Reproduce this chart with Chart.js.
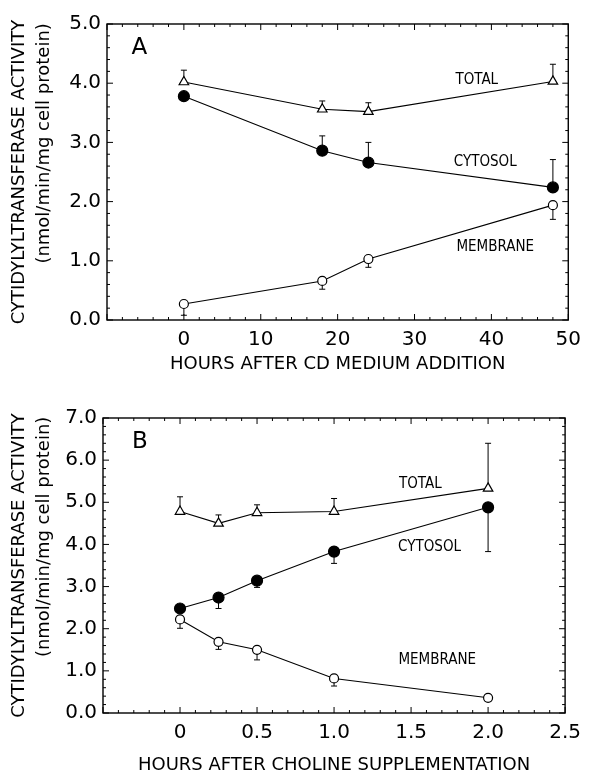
<!DOCTYPE html>
<html>
<head>
<meta charset="utf-8">
<script src="https://cdn.jsdelivr.net/npm/chart.js@4/dist/chart.umd.min.js"></script>
<style>
  html, body { margin: 0; padding: 0; background: #fff; }
  body { width: 589px; height: 776px; position: relative; overflow: hidden; }
  canvas { position: absolute; left: 0; }
  #chartA { top: 0; }
  #chartB { top: 388px; }
</style>
</head>
<body>
<canvas id="chartA" width="589" height="388"></canvas>
<canvas id="chartB" width="589" height="388"></canvas>
<script>
// Panel A - hours after CD medium addition
const hoursA = [0, 18, 24, 48];
const totalA = [4.02, 3.56, 3.52, 4.03];
const totalErrA = [0.20, 0.14, 0.15, 0.29];      // bars point up
const cytosolA = [3.78, 2.86, 2.66, 2.24];
const cytosolErrA = [0, 0.25, 0.34, 0.47];       // up
const membraneA = [0.27, 0.66, 1.03, 1.94];
const membraneErrA = [0.19, 0.14, 0.14, 0.24];   // down
const xTicksA = [0, 10, 20, 30, 40, 50];
const xLabelsA = ['0', '10', '20', '30', '40', '50'];
const yTicksA = [0, 1, 2, 3, 4, 5];
const yLabelsA = ['0.0', '1.0', '2.0', '3.0', '4.0', '5.0'];

// Panel B - hours after choline supplementation
const hoursB = [0, 0.25, 0.5, 1.0, 2.0];
const totalB = [4.78, 4.50, 4.75, 4.78, 5.33];
const totalErrB = [0.35, 0.20, 0.19, 0.31, 1.07];   // up
const cytosolB = [2.48, 2.74, 3.14, 3.83, 4.88];
const cytosolErrB = [0, 0.26, 0.16, 0.28, 1.05];    // down
const membraneB = [2.22, 1.69, 1.50, 0.82, 0.36];
const membraneErrB = [0.21, 0.18, 0.24, 0.18, 0];   // down
const xTicksB = [0, 0.5, 1.0, 1.5, 2.0, 2.5];
const xLabelsB = ['0', '0.5', '1.0', '1.5', '2.0', '2.5'];
const yTicksB = [0, 1, 2, 3, 4, 5, 6, 7];
const yLabelsB = ['0.0', '1.0', '2.0', '3.0', '4.0', '5.0', '6.0', '7.0'];

const yTitle = ['CYTIDYLYLTRANSFERASE ACTIVITY', '          (nmol/min/mg cell protein)'];

Chart.defaults.font.family = "'DejaVu Sans', 'Liberation Sans', sans-serif";
Chart.defaults.color = '#000';

// box around the plot with inward major/minor ticks on all four sides
const framePlugin = {
  id: 'frame',
  afterDraw(chart, args, opts) {
    const { ctx, chartArea: a, scales: { x, y } } = chart;
    ctx.save();
    ctx.strokeStyle = '#000';
    ctx.lineWidth = 1.4;
    ctx.strokeRect(a.left, a.top, a.right - a.left, a.bottom - a.top);
    ctx.lineWidth = 1;
    const walk = (scale, minor, major, fn) => {
      const n = Math.round((scale.max - scale.min) / minor);
      for (let i = 0; i <= n; i++) {
        const v = scale.min + i * minor;
        const r = (v - scale.min) / major;
        const big = Math.abs(r - Math.round(r)) < 1e-6;
        fn(scale.getPixelForValue(v), big ? 6 : 3);
      }
    };
    ctx.beginPath();
    walk(x, opts.xMinor, opts.xMajor, (px, len) => {
      ctx.moveTo(px, a.bottom); ctx.lineTo(px, a.bottom - len);
      ctx.moveTo(px, a.top); ctx.lineTo(px, a.top + len);
    });
    walk(y, opts.yMinor, opts.yMajor, (py, len) => {
      ctx.moveTo(a.left, py); ctx.lineTo(a.left + len, py);
      ctx.moveTo(a.right, py); ctx.lineTo(a.right - len, py);
    });
    ctx.stroke();
    ctx.restore();
  }
};

// one-sided error bars, drawn before the markers so they sit behind them
const errorPlugin = {
  id: 'errbars',
  beforeDatasetsDraw(chart) {
    const { ctx, scales: { x, y } } = chart;
    ctx.save();
    ctx.strokeStyle = '#000';
    ctx.lineWidth = 1;
    chart.data.datasets.forEach(ds => {
      if (!ds.errors) return;
      ds.data.forEach((p, i) => {
        const e = ds.errors[i];
        if (!e) return;
        const px = x.getPixelForValue(p.x);
        const py0 = y.getPixelForValue(p.y);
        const py1 = y.getPixelForValue(p.y + ds.errDir * e);
        ctx.beginPath();
        ctx.moveTo(px, py0); ctx.lineTo(px, py1);
        ctx.moveTo(px - 3, py1); ctx.lineTo(px + 3, py1);
        ctx.stroke();
      });
    });
    ctx.restore();
  }
};

// curve names and panel letter
const labelPlugin = {
  id: 'curveLabels',
  afterDatasetsDraw(chart, args, opts) {
    const { ctx, scales: { x, y } } = chart;
    ctx.save();
    ctx.fillStyle = '#000';
    ctx.textAlign = 'center';
    ctx.textBaseline = 'middle';
    opts.items.forEach(it => {
      ctx.font = it.font;
      ctx.fillText(it.text, x.getPixelForValue(it.x), y.getPixelForValue(it.y));
    });
    ctx.restore();
  }
};

function series(hours, vals, errs, dir, style, fill, radius) {
  return {
    data: hours.map((h, i) => ({ x: h, y: vals[i] })),
    errors: errs,
    errDir: dir,
    showLine: true,
    borderColor: '#000',
    borderWidth: 1.1,
    pointStyle: style,
    pointRadius: radius,
    pointBackgroundColor: fill,
    pointBorderColor: '#000',
    pointBorderWidth: 1.2,
    tension: 0
  };
}

const narrow = "15px 'Liberation Sans Narrow', 'DejaVu Sans Condensed', sans-serif";
const letter = "23px 'DejaVu Sans', sans-serif";

function panel(id, p) {
  return new Chart(document.getElementById(id), {
    type: 'scatter',
    data: {
      datasets: [
        series(p.hours, p.total, p.totalErr, 1, 'triangle', '#fff', 5.5),
        series(p.hours, p.cytosol, p.cytosolErr, p.cytosolDir, 'circle', '#000', 5.5),
        series(p.hours, p.membrane, p.membraneErr, -1, 'circle', '#fff', 4.5)
      ]
    },
    options: {
      responsive: false,
      animation: false,
      devicePixelRatio: 1,
      layout: { padding: { top: p.top, right: p.right, left: 0, bottom: 0 } },
      plugins: {
        legend: { display: false },
        tooltip: { enabled: false },
        frame: p.frame,
        curveLabels: { items: p.labels }
      },
      scales: {
        x: {
          type: 'linear',
          min: p.xMin,
          max: p.xMax,
          afterBuildTicks: s => { s.ticks = p.xTicks.map(v => ({ value: v })); },
          afterFit: s => { s.height = p.xHeight; },
          grid: { display: false, drawTicks: false },
          border: { display: false },
          ticks: {
            font: { size: 20 },
            padding: 8,
            maxRotation: 0,
            autoSkip: false,
            callback: (v, i) => p.xLabels[i]
          },
          title: {
            display: true,
            text: p.xTitle,
            font: { size: 18 },
            padding: { top: 0, bottom: p.xTitlePad }
          }
        },
        y: {
          type: 'linear',
          min: 0,
          max: p.yMax,
          afterBuildTicks: s => { s.ticks = p.yTicks.map(v => ({ value: v })); },
          afterFit: s => { s.width = p.yWidth; },
          grid: { display: false, drawTicks: false },
          border: { display: false },
          ticks: {
            font: { size: 20 },
            padding: 6,
            autoSkip: false,
            callback: (v, i) => p.yLabels[i]
          },
          title: {
            display: true,
            text: yTitle,
            font: { size: 18, lineHeight: 1.4 },
            padding: { top: 7, bottom: 0 }
          }
        }
      }
    },
    plugins: [errorPlugin, labelPlugin, framePlugin]
  });
}

panel('chartA', {
  hours: hoursA, total: totalA, totalErr: totalErrA,
  cytosol: cytosolA, cytosolErr: cytosolErrA, cytosolDir: 1,
  membrane: membraneA, membraneErr: membraneErrA,
  xMin: -10, xMax: 50, xTicks: xTicksA, xLabels: xLabelsA,
  yMax: 5, yTicks: yTicksA, yLabels: yLabelsA,
  xTitle: 'HOURS AFTER CD MEDIUM ADDITION',
  top: 24, right: 14, yWidth: 107, xHeight: 68, xTitlePad: 13,
  frame: { xMinor: 2, xMajor: 10, yMinor: 0.2, yMajor: 1 },
  labels: [
    { text: 'A', x: -5.8, y: 4.6, font: letter },
    { text: 'TOTAL', x: 38.1, y: 4.05, font: narrow },
    { text: 'CYTOSOL', x: 39.2, y: 2.67, font: narrow },
    { text: 'MEMBRANE', x: 40.5, y: 1.23, font: narrow }
  ]
});

panel('chartB', {
  hours: hoursB, total: totalB, totalErr: totalErrB,
  cytosol: cytosolB, cytosolErr: cytosolErrB, cytosolDir: -1,
  membrane: membraneB, membraneErr: membraneErrB,
  xMin: -0.5, xMax: 2.5, xTicks: xTicksB, xLabels: xLabelsB,
  yMax: 7, yTicks: yTicksB, yLabels: yLabelsB,
  xTitle: 'HOURS AFTER CHOLINE SUPPLEMENTATION',
  top: 30, right: 19, yWidth: 103, xHeight: 63, xTitlePad: 0,
  frame: { xMinor: 0.1, xMajor: 0.5, yMinor: 0.2, yMajor: 1 },
  labels: [
    { text: 'B', x: -0.26, y: 6.44, font: letter },
    { text: 'TOTAL', x: 1.56, y: 5.43, font: narrow },
    { text: 'CYTOSOL', x: 1.62, y: 3.94, font: narrow },
    { text: 'MEMBRANE', x: 1.67, y: 1.26, font: narrow }
  ]
});
</script>
</body>
</html>
